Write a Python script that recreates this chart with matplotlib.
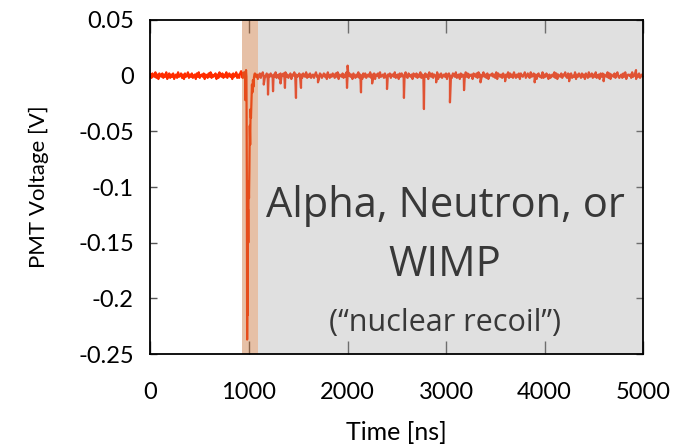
import numpy as np
import matplotlib
matplotlib.use("Agg")
from matplotlib import pyplot as plt

# baseline noise [mV], sampled every 10 ns
pre_mv = [1, -2, 2, 0, -1, 3, -2, 1, -3, 2, 0, -1, 2, -2, 1, -1, 3, -3, 0, 2,
          -2, 1, -1, 2, -3, 0, 1, -2, 3, -1, 0, 2, -2, 1, -3, 2, -1, 0, 3, -2,
          1, -1, 2, -2, 0, 1, -3, 2, -1, 3, -2, 0, 1, -1, 2, -3, 1, 0, -2, 2,
          -1, 3, -2, 1, -1, 0, 2, -3, 1, -2, 3, 0, -1, 2, -2, 1, -1, 3, -2, 0,
          2, -1, 1, -3, 2, -1, 0, 3, -2, 1, -2, 2, 4]

post_mv = [2, -1, 1, -3, 0, 2, -2, 1, 3, -1, -2, 0, 2, -3, 1, -1, 2, 0, -2, 1,
           -1, 3, -2, 0, 1, -3, 2, -1, 0, 2, -2, 3, -1, 1, -2, 0, 2, -3, 1, 0,
           3, -2, 1, -1, 0, 2, -3, 1, -2, 2, 0, -1, 3, -2, 1, -1, 2, -2, 0, 1,
           -2, 1, 3, -1, 0, -3, 2, 1, -2, 0, 2, -1, 1, -3, 3, 0, -2, 1, -1, 2,
           0, -2, 2, -1, 3, -3, 1, 0, -1, 2, -2, 1, -1, 3, -2, 0, 2, -1, 1, -3,
           2, 0, -2, 1, -1, 3, -2, 1, 0, -3, 2, -1, 2, -2, 0, 1, -1, 3, -2, 1,
           -1, 2, -3, 1, 0, 2, -2, 3, -1, 0, 1, -2, 2, -1, -3, 1, 0, 2, -2, 1,
           1, -1, 3, -2, 0, 1, -3, 2, -1, 2, 0, -2, 1, 3, -1, -2, 2, 0, -1, 1,
           -3, 2, 0, -1, 2, -2, 1, -1, 3, -2, 1, 0, -2, 2, -1, 1, -3, 3, 0, -1,
           2, -2, 1, 0, -1, 3, -3, 1, -1, 2, -2, 0, 1, -1, 2, -3, 1, 2, -2, 0,
           -2, 2, 1, -1, 3, -2, 0, 1, -3, 2, -1, 1, 0, -2, 3, -1, 2, -2, 1, 0,
           1, -3, 2, 0, -1, 2, -2, 3, -1, 1, -2, 0, 3, -1, 1, -2, 2, -3, 0, 1,
           0, 2, -1, 1, -2, 3, -3, 2, 0, -1, 1, -2, 2, 0, -3, 1, -1, 3, -2, 2,
           -1, 1, -2, 3, 0, -2, 1, -1, 2, -3, 2, 0, -1, 1, 3, -2, 0, 2, -1, -2,
           3, -1, 0, 2, -2, 1, -3, 1, 2, -1, 0, -2, 3, -2, 1, -1, 2, 0, -3, 1,
           -2, 0, 1, -1, 3, -2, 2, -3, 1, 0, -1, 2, -2, 1, 0, 3, -1, -2, 2, -1,
           1, 2, -2, 0, -1, 3, -3, 1, -1, 2, 0, -2, 2, -1, 1, -3, 2, 0, -2, 3,
           -1, 0, 2, -2, 1, -1, 3, -2, 0, 1, -3, 2, -1, 2, -2, 1, 0, -1, 3, -2,
           2, -3, 1, 0, -1, 2, -2, 1, 3, -1, -2, 0, 1, -2, 2, -1, 3, -3, 0, 1,
           0, 1, -2, 3, -1, 0, 2, -3, 1, -1, 2, -2, 0, 1, -1, 3, -2, 2, 0, -1]

# the pulse itself [ns], [mV]
pulse_t = [930, 935, 940, 945, 950, 955, 960, 963, 966, 970, 974, 978, 981,
           984, 987, 990, 993, 996, 1000, 1004, 1008, 1012, 1016, 1020, 1025,
           1030, 1035, 1040, 1045, 1050, 1055]
pulse_mv = [1, -2, 2, -1, 3, -2, 1, -22, 2, 5, -1, -90, -237,
            -180, -215, -120, -150, -95, -110, -84, -45, -62, -30, -38, -24,
            -8, -15, -4, -10, -2, 1]

# single photoelectron spikes in the tail [ns], [mV]
spike_t = [1150, 1193, 1244, 1320, 1365, 1477, 1528, 1700, 1995, 2001, 2137,
           2250, 2401, 2573, 2776, 2900, 3040, 3183, 3350, 3600, 3900, 4250,
           4600, 4929]
spike_mv = [-8, -17, -14, -7, -11, -20, -11, -6, -11, 9, -15,
            -7, -12, -20, -30, -6, -24, -13, -6, -5, -6, -5,
            -5, 5]

pre_t = np.arange(len(pre_mv)) * 10
post_t = 1060 + np.arange(len(post_mv)) * 10

t = np.concatenate([pre_t, pulse_t, post_t, spike_t])
v = np.concatenate([pre_mv, pulse_mv, post_mv, spike_mv]) / 1000.0
order = np.argsort(t, kind="stable")
t, v = t[order], v[order]

plt.rcParams['font.family'] = ['Lato', 'DejaVu Sans']

fig = plt.figure(figsize=(6.85, 4.47), dpi=100)
ax = fig.add_axes([0.2197, 0.208, 0.719, 0.7473])

ax.plot(t, v, color='#ff2d00', lw=1.6, zorder=2)
# shaded regions drawn over the trace
ax.axvspan(930, 1088, color='#c8743a', alpha=0.45, lw=0, zorder=3)
ax.axvspan(1088, 5000, color='#a1a1a1', alpha=0.33, lw=0, zorder=3)

ax.set_xlim(0, 5000)
ax.set_ylim(-0.25, 0.05)
ax.set_xticks([0, 1000, 2000, 3000, 4000, 5000])
ax.set_xticklabels(['0', '1000', '2000', '3000', '4000', '5000'])
ax.set_yticks([0.05, 0, -0.05, -0.1, -0.15, -0.2, -0.25])
ax.set_yticklabels(['0.05', '0', '-0.05', '-0.1', '-0.15', '-0.2', '-0.25'])

ax.tick_params(axis='x', direction='in', length=9.5, width=1, color='#555555',
               top=True, labelsize=17, pad=20)
ax.tick_params(axis='y', direction='in', length=5, width=1, color='#555555',
               right=True, labelsize=17, pad=12)
for s in ax.spines.values():
    s.set_linewidth(1.3)
    s.set_zorder(5)

ax.set_xlabel('Time [ns]', fontsize=18, labelpad=13)
ax.set_ylabel('PMT Voltage [V]', fontsize=16, labelpad=21)

txt = '#383838'
ax.text(2990, -0.1265, 'Alpha, Neutron, or', fontsize=30, color=txt,
        ha='center', va='baseline', family=['Open Sans', 'DejaVu Sans'], zorder=6)
ax.text(2990, -0.180, 'WIMP', fontsize=30, color=txt,
        ha='center', va='baseline', family=['Open Sans', 'DejaVu Sans'], zorder=6)
ax.text(2990, -0.2296, '(\u201cnuclear recoil\u201d)', fontsize=22, color=txt,
        ha='center', va='baseline', family=['Open Sans', 'DejaVu Sans'], zorder=6)

fig.savefig('out.png', dpi=100)
